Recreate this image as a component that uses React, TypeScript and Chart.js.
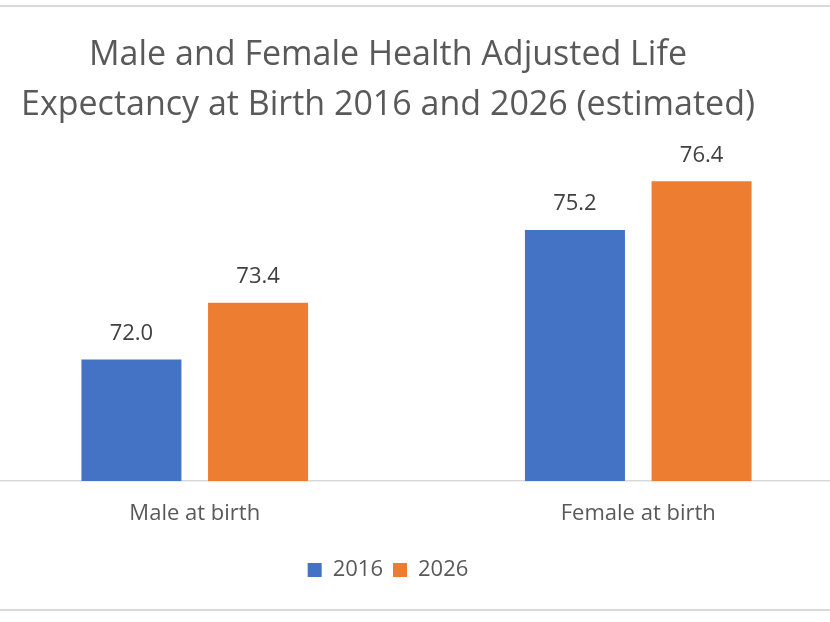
import React, { useEffect, useRef } from "react";
import { Chart, registerables } from "chart.js";

Chart.register(...registerables);

const categories = ["Male at birth", "Female at birth"];
const seriesNames = ["2016", "2026"];
const values2016 = [72.0, 75.2];
const values2026 = [73.4, 76.4];
const titleLines = [
  "Male and Female Health Adjusted Life",
  "Expectancy at Birth 2016 and 2026 (estimated)",
];
const yMin = 69;
const yMax = 77;

const FONT = "'Open Sans', sans-serif";

const valueLabels = {
  id: "valueLabels",
  afterDatasetsDraw(chart: any) {
    const ctx = chart.ctx;
    ctx.save();
    ctx.font = `22px ${FONT}`;
    ctx.fillStyle = "#404040";
    ctx.textAlign = "center";
    ctx.textBaseline = "middle";
    chart.data.datasets.forEach((ds: any, i: number) => {
      const meta = chart.getDatasetMeta(i);
      meta.data.forEach((el: any, j: number) => {
        const v = ds.data[j];
        ctx.fillText(Number(v).toFixed(1), el.x, el.y - 26);
      });
    });
    ctx.restore();
  },
};

export default function App() {
  const ref = useRef<HTMLCanvasElement | null>(null);

  useEffect(() => {
    if (!ref.current) return;
    const chart = new Chart(ref.current, {
      type: "bar",
      data: {
        labels: categories,
        datasets: [
          {
            label: seriesNames[0],
            data: values2016,
            backgroundColor: "#4472C4",
            categoryPercentage: 0.571,
            barPercentage: 0.79,
          },
          {
            label: seriesNames[1],
            data: values2026,
            backgroundColor: "#ED7D31",
            categoryPercentage: 0.571,
            barPercentage: 0.79,
          },
        ],
      },
      options: {
        animation: false,
        responsive: false,
        maintainAspectRatio: false,
        layout: { padding: { top: 0, bottom: 31, left: 0, right: 0 } },
        scales: {
          x: {
            grid: { display: false, drawTicks: false },
            border: { display: true, color: "#d9d9d9", width: 1.5 },
            ticks: {
              padding: 20,
              color: "#595959",
              font: { family: FONT, size: 22 },
            },
            afterFit: (s: any) => {
              s.height = 68;
            },
          },
          y: {
            min: yMin,
            max: yMax,
            position: "left",
            grid: { display: false, drawTicks: false },
            border: { display: false },
            ticks: { display: false },
            afterFit: (s: any) => {
              s.width = 57;
            },
          },
        },
        plugins: {
          title: {
            display: true,
            text: titleLines,
            color: "#595959",
            font: { family: FONT, size: 34, weight: "normal", lineHeight: "50px" },
            padding: { top: 30, bottom: 27 },
          },
          legend: {
            position: "bottom",
            labels: {
              boxWidth: 14,
              boxHeight: 14,
              padding: 10,
              color: "#595959",
              font: { family: FONT, size: 22 },
            },
          },
          tooltip: { enabled: false },
        },
      },
      plugins: [valueLabels],
    });
    return () => chart.destroy();
  }, []);

  return (
    <div
      style={{
        position: "fixed",
        left: 0,
        top: 0,
        width: 830,
        height: 622,
        overflow: "hidden",
        background: "#ffffff",
      }}
    >
      <canvas
        ref={ref}
        width={944}
        height={622}
        style={{ position: "absolute", left: -84, top: 0, width: 944, height: 622 }}
      />
      <div style={{ position: "absolute", left: 0, top: 5, width: 830, height: 2, background: "#d9d9d9" }} />
      <div style={{ position: "absolute", left: 0, top: 609, width: 830, height: 2, background: "#d9d9d9" }} />
    </div>
  );
}
